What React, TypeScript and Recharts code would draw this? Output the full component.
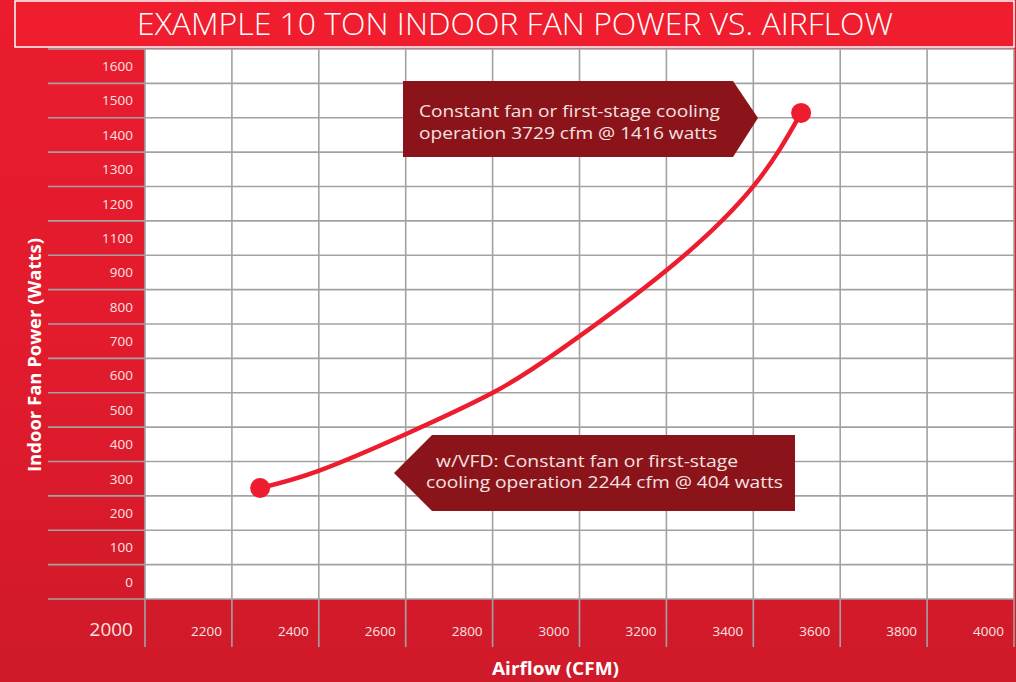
import React from "react";
import { LineChart, Line, XAxis, YAxis, CartesianGrid } from "recharts";

const W = 1016;
const H = 682;
const M_TOP = 49;
const M_BOTTOM = 82;
const M_RIGHT = 2;
const Y_W = 145;
const X_H = 1;

// data
const airflow = [2265, 2398, 2601, 2799, 2955, 3201, 3399, 3510];
const fanPower = [323, 372, 480, 599, 724, 957, 1199, 1414];

const xTicks = [2000, 2200, 2400, 2600, 2800, 3000, 3200, 3400, 3600, 3800, 4000];
const xTickLabels = ["2000", "2200", "2400", "2600", "2800", "3000", "3200", "3400", "3600", "3800", "4000"];
const yGridValues = [0, 100, 200, 300, 400, 500, 600, 700, 800, 900, 1000, 1100, 1200, 1300, 1400, 1500, 1600];
const yRowLabels = ["0", "100", "200", "300", "400", "500", "600", "700", "800", "900", "1100", "1200", "1300", "1400", "1500", "1600"];

const title = "EXAMPLE 10 TON INDOOR FAN POWER VS. AIRFLOW";
const xTitle = "Airflow (CFM)";
const yTitle = "Indoor Fan Power (Watts)";
const note1 = ["Constant fan or first-stage cooling", "operation 3729 cfm @ 1416 watts"];
const note2 = ["w/VFD: Constant fan or first-stage", "cooling operation 2244 cfm @ 404 watts"];

const data = airflow.map((x, i) => ({ x, y: fanPower[i] }));

const RED = "#ed1c2e";
const DARK = "#8a1419";
const GRID = "#a2a2a2";
const FONT = "'Open Sans', 'Noto Sans', sans-serif";

const PLOT_H = H - M_TOP - M_BOTTOM - X_H;
const ROW_PX = PLOT_H / yRowLabels.length;

const XTick = (props: any) => {
  const { x, y, payload, index } = props;
  const first = payload.value === xTicks[0];
  const label = xTickLabels[index] ?? String(payload.value);
  return (
    <text
      x={x - (first ? 12 : 10)}
      y={y - 11}
      textAnchor="end"
      fill="#fbe3e3"
      fontSize={first ? 19 : 13.5}
      fontFamily={FONT}
    >
      {label}
    </text>
  );
};

const YTick = (props: any) => {
  const { y, index } = props;
  const label = yRowLabels[index];
  if (label === undefined) return <g />;
  return (
    <text
      x={Y_W - 12}
      y={y - ROW_PX / 2}
      dy="0.36em"
      textAnchor="end"
      fill="#fbe3e3"
      fontSize={13.5}
      fontFamily={FONT}
    >
      {label}
    </text>
  );
};

const EndDot = (props: any) => {
  const { cx, cy, index } = props;
  if (index !== 0 && index !== data.length - 1) return <g key={`d${index}`} />;
  return <circle key={`d${index}`} cx={cx} cy={cy} r={10} fill={RED} />;
};

export default function App() {
  return (
    <div
      style={{
        position: "absolute",
        left: 0,
        top: 0,
        width: W,
        height: H,
        background: "linear-gradient(180deg, #ea1c2e 0%, #e21b2d 50%, #cf1a29 100%)",
        overflow: "hidden",
      }}
    >
      <LineChart
        width={W}
        height={H}
        data={data}
        margin={{ top: M_TOP, right: M_RIGHT, left: 0, bottom: M_BOTTOM }}
        style={{ position: "absolute", left: 0, top: 0 }}
      >
        <CartesianGrid fill="#ffffff" stroke={GRID} strokeWidth={1.6} />
        <XAxis
          dataKey="x"
          type="number"
          domain={[2000, 4000]}
          ticks={xTicks}
          interval={0}
          height={X_H}
          axisLine={false}
          tickSize={48}
          tickLine={{ stroke: GRID, strokeWidth: 1.6 }}
          tickMargin={0}
          tick={<XTick />}
        />
        <YAxis
          type="number"
          domain={[0, 1600]}
          ticks={yGridValues}
          interval={0}
          width={Y_W}
          axisLine={false}
          tickSize={97}
          tickLine={{ stroke: GRID, strokeWidth: 1.6 }}
          tick={<YTick />}
        />
        <Line
          dataKey="y"
          type="natural"
          stroke={RED}
          strokeWidth={4.5}
          dot={<EndDot />}
          activeDot={false}
          isAnimationActive={false}
        />
      </LineChart>
      <svg
        width={W}
        height={H}
        style={{ position: "absolute", left: 0, top: 0, pointerEvents: "none" }}
      >
        <rect x={15} y={1} width={999} height={46} fill="#ef1d2e" stroke="#ffffff" strokeWidth={1.5} />
        <text
          x={137}
          y={35}
          fill="#ffffff"
          fontSize={32}
          fontWeight={300}
          fontFamily={FONT}
          textLength={756}
          lengthAdjust="spacingAndGlyphs"
        >
          {title}
        </text>
        <text
          x={492}
          y={675}
          fill="#ffffff"
          fontSize={18.5}
          fontWeight={700}
          fontFamily={FONT}
          textLength={127}
          lengthAdjust="spacingAndGlyphs"
        >
          {xTitle}
        </text>
        <text
          transform="translate(41 472) rotate(-90)"
          x={0}
          y={0}
          fill="#ffffff"
          fontSize={17}
          fontWeight={700}
          fontFamily={FONT}
          textLength={234}
          lengthAdjust="spacingAndGlyphs"
        >
          {yTitle}
        </text>
        <polygon points="403,81 733,81 758,118 733,157 403,157" fill={DARK} />
        <text x={419} y={117} fill="#f6e2e2" fontSize={17} fontFamily={FONT} textLength={301} lengthAdjust="spacingAndGlyphs">
          {note1[0]}
        </text>
        <text x={419} y={139} fill="#f6e2e2" fontSize={17} fontFamily={FONT} textLength={298} lengthAdjust="spacingAndGlyphs">
          {note1[1]}
        </text>
        <polygon points="432,435 795,435 795,511 432,511 394,473" fill={DARK} />
        <text x={436} y={467} fill="#f6e2e2" fontSize={17} fontFamily={FONT} textLength={302} lengthAdjust="spacingAndGlyphs">
          {note2[0]}
        </text>
        <text x={426} y={488} fill="#f6e2e2" fontSize={17} fontFamily={FONT} textLength={357} lengthAdjust="spacingAndGlyphs">
          {note2[1]}
        </text>
      </svg>
    </div>
  );
}
